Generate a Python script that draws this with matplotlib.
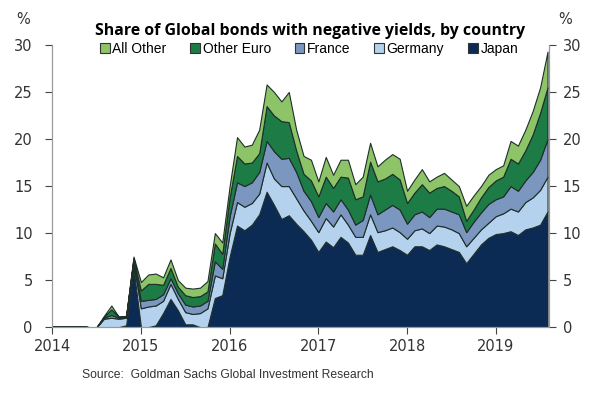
import matplotlib
matplotlib.use("Agg")
import matplotlib.pyplot as plt
from matplotlib.patches import Patch
import numpy as np

# monthly, Jan 2014 .. Aug 2019 (% of global bonds with negative yields)
months = np.arange(68)
dates = 2014 + months / 12

japan = [0, 0, 0, 0, 0, 0, 0, 0, 0, 0, 0.2, 6.3,
         0, 0, 0.2, 1.5, 3.0, 1.8, 0.3, 0.3, 0, 0, 3.1, 3.4,
         7.5, 10.8, 10.3, 10.9, 12.0, 14.4, 13.0, 11.5, 11.9, 11.0, 10.2, 9.3,
         8.0, 9.1, 8.5, 9.6, 9.0, 7.7, 7.7, 9.8, 8.0, 8.3, 8.6, 8.2,
         7.7, 8.6, 8.6, 8.2, 8.8, 8.6, 8.3, 8.0, 6.8, 7.8, 8.8, 9.5,
         9.9, 10.0, 10.2, 9.8, 10.4, 10.6, 10.9, 12.3]
germany = [0.1, 0.1, 0.1, 0.1, 0.1, 0, 0, 0.9, 1.0, 0.9, 0.8, 0.6,
           2.0, 2.2, 2.1, 1.3, 1.6, 1.2, 1.3, 1.1, 1.5, 2.0, 2.4, 1.8,
           2.5, 2.5, 2.5, 2.3, 2.2, 3.1, 2.8, 3.5, 3.1, 2.7, 2.2, 2.0,
           2.1, 2.5, 2.2, 2.4, 1.9, 1.9, 1.9, 2.2, 2.1, 2.0, 2.0, 1.9,
           1.7, 1.7, 1.9, 1.8, 2.0, 2.1, 2.1, 2.0, 1.8, 1.7, 1.6, 1.6,
           1.9, 2.1, 2.4, 2.5, 2.9, 3.2, 3.7, 3.7]
france = [0, 0, 0, 0, 0, 0, 0, 0.1, 0.3, 0.1, 0.1, 0.2,
          0.8, 0.7, 0.7, 0.7, 0.6, 0.6, 0.8, 0.8, 0.8, 0.8, 1.5, 1.0,
          1.8, 2.1, 2.2, 2.2, 2.3, 2.3, 2.9, 2.9, 3.0, 2.8, 2.1, 2.1,
          1.6, 1.6, 1.6, 1.6, 1.6, 1.3, 1.8, 2.1, 1.9, 2.2, 2.4, 2.4,
          1.6, 1.7, 1.8, 1.7, 1.8, 1.9, 1.9, 2.0, 1.5, 1.7, 1.8, 2.0,
          1.8, 1.8, 2.4, 2.2, 2.3, 2.7, 3.2, 4.0]
other_euro = [0, 0, 0, 0, 0, 0, 0, 0.1, 0.6, 0.1, 0.1, 0.2,
              1.1, 1.7, 1.6, 1.0, 1.1, 0.7, 1.0, 1.0, 1.0, 1.0, 1.9, 1.6,
              2.0, 2.8, 2.4, 2.1, 2.0, 3.7, 3.8, 4.0, 3.8, 2.3, 1.8, 2.2,
              2.2, 2.8, 2.5, 2.4, 3.4, 2.7, 2.5, 3.5, 3.5, 3.3, 3.3, 3.2,
              2.2, 2.3, 2.9, 2.6, 2.2, 2.4, 2.2, 1.9, 1.2, 1.3, 1.6, 1.8,
              2.0, 2.1, 2.9, 2.9, 3.2, 4.0, 5.0, 5.5]
all_other = [0, 0, 0, 0, 0, 0, 0, 0.1, 0.4, 0, 0, 0.2,
             0.9, 1.0, 1.1, 0.8, 0.9, 0.7, 0.8, 0.9, 0.9, 1.1, 1.1, 1.2,
             1.2, 2.0, 1.8, 1.9, 2.5, 2.3, 2.5, 2.1, 3.2, 2.2, 1.9, 2.2,
             1.6, 2.1, 1.4, 1.8, 1.9, 1.6, 2.1, 2.0, 1.6, 2.0, 2.1, 2.2,
             1.3, 1.4, 1.6, 1.2, 1.2, 1.4, 1.2, 1.1, 1.6, 1.5, 1.2, 1.3,
             1.2, 1.2, 1.9, 1.9, 2.2, 2.5, 2.7, 3.8]

labels = ["Japan", "Germany", "France", "Other Euro", "All Other"]
colors = ["#0b2b55", "#b4d2ee", "#7b96bf", "#1d7b45", "#8cc467"]
years = [2014, 2015, 2016, 2017, 2018, 2019]

fig = plt.figure(figsize=(6, 3.98), dpi=100)
ax = fig.add_axes([0.087, 0.178, 0.828, 0.709])

ax.stackplot(dates, japan, germany, france, other_euro, all_other,
             colors=colors, edgecolor="#1e2e2a", linewidth=0.8)

ax.set_xlim(2014, 2019.6)
ax.set_ylim(0, 30)
ax.set_xticks(years)
ax.set_xticklabels([str(y) for y in years])
ax.set_yticks(range(0, 31, 5))
ax.tick_params(axis="both", labelsize=10.5, colors="#444444", length=5,
               width=0.8, labelcolor="#333333")
ax.tick_params(axis="y", pad=9)
for s in ["left", "bottom", "right"]:
    ax.spines[s].set_color("#999999")
ax.spines["top"].set_visible(False)

ax2 = ax.twinx()
ax2.set_ylim(0, 30)
ax2.set_yticks(range(0, 31, 5))
ax2.tick_params(axis="y", labelsize=10.5, colors="#444444", length=5,
                width=0.8, labelcolor="#333333", pad=5)
for s in ["left", "bottom", "right"]:
    ax2.spines[s].set_color("#999999")
ax2.spines["top"].set_visible(False)

fig.text(0.038, 0.95, "%", fontsize=10.5, color="#333333", ha="center", va="center")
fig.text(0.942, 0.95, "%", fontsize=10.5, color="#333333", ha="center", va="center")

fig.text(0.517, 0.922, "Share of Global bonds with negative yields, by country",
         fontsize=11.4, fontweight="bold", family="Open Sans", ha="center", va="center")

handles = [Patch(facecolor=c, edgecolor="#333333", linewidth=0.8, label=l)
           for c, l in zip(colors[::-1], labels[::-1])]
fig.legend(handles=handles, loc="center", bbox_to_anchor=(0.515, 0.877), ncol=5,
           frameon=False, handlelength=0.7, handleheight=0.7,
           handletextpad=0.2, columnspacing=1.7, prop={"family": "Liberation Sans", "size": 10})

fig.text(0.137, 0.057, "Source:  Goldman Sachs Global Investment Research",
         fontsize=8.7, color="#333333", family="Liberation Sans", ha="left", va="center")

fig.savefig("out.png", dpi=100)
